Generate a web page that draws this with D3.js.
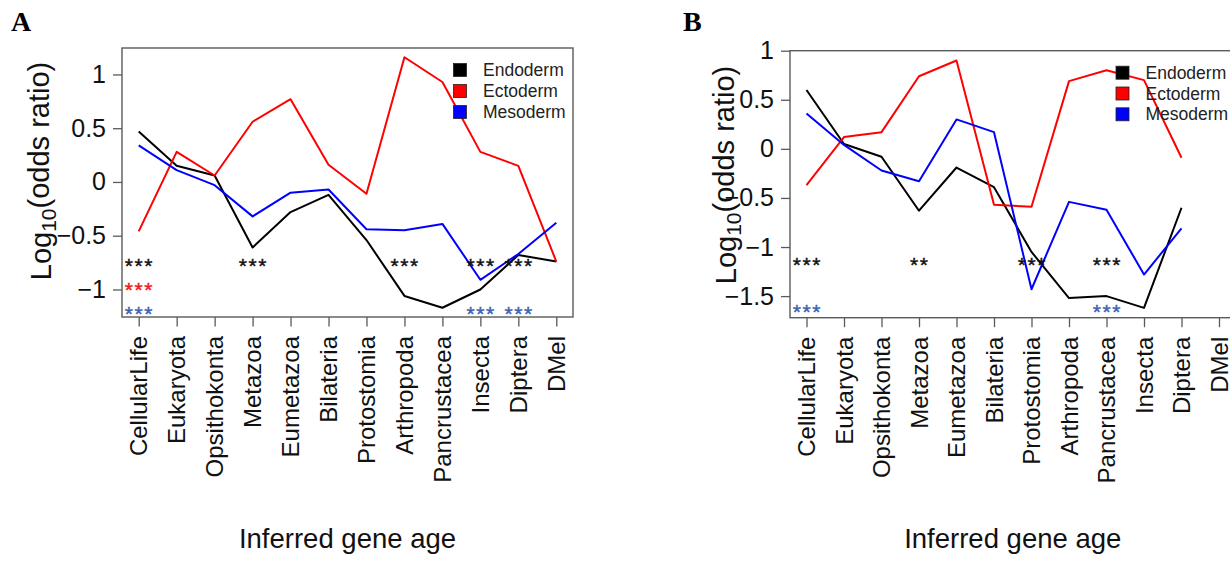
<!DOCTYPE html>
<html>
<head>
<meta charset="utf-8">
<script src="https://cdn.jsdelivr.net/npm/d3@7"></script>
<style>
  body { margin: 0; background: #fff; }
  svg { display: block; font-family: "Liberation Sans", Arial, sans-serif; }
</style>
</head>
<body>
<svg id="chart" width="1230" height="562"></svg>
<script>
// ---------- data ----------
const categories = ["CellularLife", "Eukaryota", "Opsithokonta", "Metazoa", "Eumetazoa",
  "Bilateria", "Protostomia", "Arthropoda", "Pancrustacea", "Insecta", "Diptera", "DMel"];
const seriesNames = ["Endoderm", "Ectoderm", "Mesoderm"];
const seriesColors = ["#000000", "#ff0000", "#0000ff"];

// Panel A
const endodermA = [0.47, 0.15, 0.06, -0.61, -0.28, -0.12, -0.54, -1.06, -1.17, -1.00, -0.68, -0.74];
const ectodermA = [-0.46, 0.28, 0.06, 0.56, 0.77, 0.16, -0.11, 1.16, 0.93, 0.28, 0.15, -0.74];
const mesodermA = [0.34, 0.11, -0.03, -0.32, -0.10, -0.07, -0.44, -0.45, -0.39, -0.91, -0.67, -0.38];
const yTicksA = [-1, -0.5, 0, 0.5, 1];
const yTickLabelsA = ["\u22121", "\u22120.5", "0", "0.5", "1"];

// Panel B (no DMel value)
const endodermB = [0.60, 0.05, -0.08, -0.63, -0.19, -0.39, -1.05, -1.52, -1.50, -1.62, -0.60];
const ectodermB = [-0.37, 0.12, 0.17, 0.74, 0.90, -0.57, -0.59, 0.69, 0.80, 0.70, -0.09];
const mesodermB = [0.36, 0.04, -0.22, -0.33, 0.30, 0.17, -1.43, -0.54, -0.62, -1.28, -0.81];
const yTicksB = [-1.5, -1, -0.5, 0, 0.5, 1];
const yTickLabelsB = ["\u22121.5", "\u22121", "\u22120.5", "0", "0.5", "1"];

// significance marks: [category, series, mark]
const starsA = [
  ["CellularLife", "Endoderm", "***"], ["Metazoa", "Endoderm", "***"], ["Arthropoda", "Endoderm", "***"],
  ["Insecta", "Endoderm", "***"], ["Diptera", "Endoderm", "***"],
  ["CellularLife", "Ectoderm", "***"],
  ["CellularLife", "Mesoderm", "***"], ["Insecta", "Mesoderm", "***"], ["Diptera", "Mesoderm", "***"]
];
const starsB = [
  ["CellularLife", "Endoderm", "***"], ["Metazoa", "Endoderm", "**"], ["Protostomia", "Endoderm", "***"],
  ["Pancrustacea", "Endoderm", "***"],
  ["CellularLife", "Mesoderm", "***"], ["Pancrustacea", "Mesoderm", "***"]
];
const starColors = {Endoderm: "#111111", Ectoderm: "#f01818", Mesoderm: "#3d63b0"};

const xLabel = "Inferred gene age";

// ---------- drawing ----------
const svg = d3.select("#chart");
const boxColor = "#5a5a5a";

function panel(cfg) {
  const g = svg.append("g");
  const x = d3.scalePoint().domain(categories).range([cfg.left, cfg.right]).padding(0.44);
  const y = d3.scaleLinear().domain(cfg.yDomain).range([cfg.bottom, cfg.top]);

  // y axis
  const yAxis = d3.axisLeft(y).tickValues(cfg.yTicks)
    .tickFormat((d, i) => cfg.yTickLabels[i]).tickSize(9).tickPadding(7);
  const ya = g.append("g").attr("transform", `translate(${cfg.left},0)`).call(yAxis);
  ya.select(".domain").remove();
  ya.selectAll("line").attr("stroke", boxColor).attr("stroke-width", 1.3);
  ya.selectAll("text").attr("font-size", 25).attr("fill", "#111")
    .attr("font-family", "Liberation Sans, Arial, sans-serif");

  // x axis
  const xAxis = d3.axisBottom(x).tickSize(9.5).tickFormat("");
  const xa = g.append("g").attr("transform", `translate(0,${cfg.bottom})`).call(xAxis);
  xa.select(".domain").remove();
  xa.selectAll("line").attr("stroke", boxColor).attr("stroke-width", 1.3);

  // category labels (rotated)
  g.selectAll("text.cat").data(categories).enter().append("text")
    .attr("class", "cat")
    .attr("transform", d => `translate(${x(d)},${cfg.bottom + 19}) rotate(-90)`)
    .attr("text-anchor", "end").attr("dy", "0.36em")
    .attr("font-size", 24).attr("fill", "#111").text(d => d);

  // box
  g.append("rect").attr("x", cfg.left).attr("y", cfg.top)
    .attr("width", cfg.right - cfg.left).attr("height", cfg.bottom - cfg.top)
    .attr("fill", "none").attr("stroke", boxColor).attr("stroke-width", 1.4);

  // lines
  const line = d3.line().x((d, i) => x(categories[i])).y(d => y(d));
  cfg.series.forEach((vals, k) => {
    g.append("path").datum(vals).attr("d", line)
      .attr("fill", "none").attr("stroke", seriesColors[k]).attr("stroke-width", 2)
      .attr("stroke-linejoin", "round");
  });

  // stars
  cfg.stars.forEach(([cat, ser, mark]) => {
    g.append("text").attr("x", x(cat) + 0.8).attr("y", y(cfg.starRows[ser]) + 12)
      .attr("text-anchor", "middle").attr("font-size", 21).attr("letter-spacing", 1.6)
      .attr("stroke", starColors[ser]).attr("stroke-width", 0.4)
      .attr("fill", starColors[ser]).text(mark);
  });

  // legend
  seriesNames.forEach((name, k) => {
    const ry = cfg.legY + k * cfg.legStep;
    g.append("rect").attr("x", cfg.legX - 6.5).attr("y", ry - 6.5).attr("width", 13).attr("height", 13)
      .attr("fill", seriesColors[k]).attr("stroke", "#222").attr("stroke-width", 0.8);
    g.append("text").attr("x", cfg.legX + 23).attr("y", ry).attr("dy", "0.35em")
      .attr("font-size", 17.5).attr("fill", "#222").text(name);
  });

  // axis titles
  g.append("text").attr("x", (cfg.left + cfg.right) / 2).attr("y", 548)
    .attr("text-anchor", "middle").attr("font-size", 27.5).attr("fill", "#111").text(xLabel);

  const yl = g.append("text")
    .attr("transform", `translate(${cfg.yLabX},${cfg.yLabY}) rotate(-90)`)
    .attr("text-anchor", "middle").attr("font-size", 29).attr("fill", "#111");
  yl.append("tspan").text("Log");
  yl.append("tspan").attr("font-size", 21).attr("dy", "0.25em").text("10");
  yl.append("tspan").attr("dy", "-0.25em").text("(odds ratio)");

  // panel letter
  svg.append("text").attr("x", cfg.letterX).attr("y", 31)
    .attr("font-family", "Liberation Serif, Times New Roman, serif")
    .attr("font-weight", "bold").attr("font-size", 28).text(cfg.letter);
}

panel({
  left: 122, right: 573, top: 48, bottom: 317,
  yDomain: [-1.256, 1.246], yTicks: yTicksA, yTickLabels: yTickLabelsA,
  series: [endodermA, ectodermA, mesodermA],
  stars: starsA, starRows: {Endoderm: -0.735, Ectoderm: -0.958, Mesoderm: -1.184},
  legX: 460, legY: 70, legStep: 21,
  yLabX: 51, yLabY: 171, letter: "A", letterX: 11
});

panel({
  left: 790, right: 1235.5, top: 50.7, bottom: 317.7,
  yDomain: [-1.72, 1.0], yTicks: yTicksB, yTickLabels: yTickLabelsB,
  series: [endodermB, ectodermB, mesodermB],
  stars: starsB, starRows: {Endoderm: -1.133, Mesoderm: -1.615},
  legX: 1122.5, legY: 72.7, legStep: 20.8,
  yLabX: 736, yLabY: 175, letter: "B", letterX: 683
});
</script>
</body>
</html>
